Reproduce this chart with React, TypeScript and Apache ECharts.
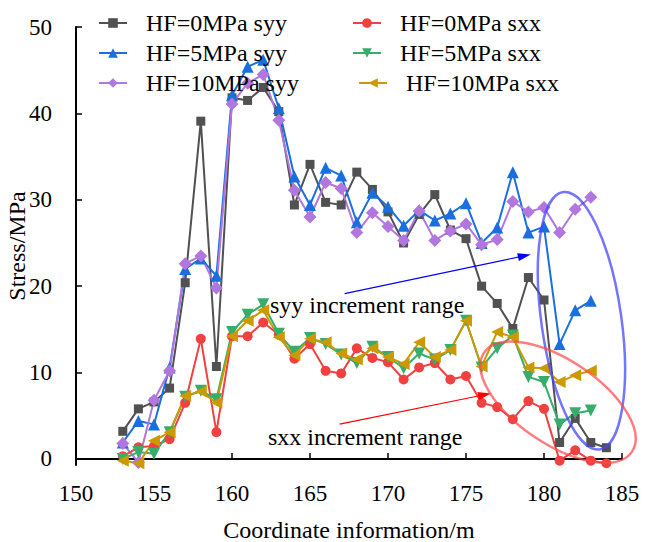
import React, { useEffect, useRef } from "react";
import * as echarts from "echarts";

// Measuring positions along the section (m)
const positions = [
  153, 154, 155, 156, 157, 158, 159, 160, 161, 162, 163, 164, 165, 166, 167, 168,
  169, 170, 171, 172, 173, 174, 175, 176, 177, 178, 179, 180, 181, 182, 183, 184,
];

// Vertical stress syy (MPa)
const syyHF0 = [
  3.2, 5.8, 6.6, 8.2, 20.4, 39.1, 10.7, 41.8, 41.5, 43.0, 40.2, 29.4, 34.1, 29.7, 29.4, 33.2,
  31.2, 28.6, 25.0, 28.3, 30.6, 26.5, 25.5, 20.0, 18.0, 15.1, 21.0, 18.4, 1.9, 4.7, 1.9, 1.3,
];
const syyHF5 = [
  1.9, 4.4, 4.0, 10.6, 22.0, 23.2, 21.2, 42.1, 45.4, 46.2, 40.6, 32.7, 29.4, 33.7, 32.8, 27.4,
  30.8, 29.2, 27.0, 28.8, 27.6, 28.4, 29.6, 25.0, 26.8, 33.2, 26.2, 26.9, 13.3, 17.2, 18.3,
];
const syyHF10 = [
  1.8, -0.4, 6.8, 10.2, 22.6, 23.5, 19.8, 41.1, 43.5, 44.5, 39.2, 31.1, 28.0, 32.0, 31.3, 26.2,
  28.5, 26.9, 25.3, 28.7, 25.3, 26.4, 27.2, 24.8, 25.4, 29.8, 28.6, 29.1, 26.2, 28.9, 30.3,
];

// Horizontal stress sxx (MPa)
const sxxHF0 = [
  0.3, 1.35, 1.5, 2.3, 6.5, 13.9, 3.1, 14.2, 14.2, 15.8, 14.4, 11.6, 13.3, 10.2, 9.9, 12.8,
  11.7, 11.2, 9.2, 10.6, 11.1, 9.2, 9.6, 6.5, 6.0, 4.6, 6.7, 5.8, -0.2, 1.0, -0.2, -0.5,
];
const sxxHF5 = [
  0.0, 0.8, 0.6, 3.1, 7.2, 7.9, 6.9, 14.7, 16.7, 17.9, 14.5, 12.4, 14.0, 13.3, 12.1, 11.1,
  13.0, 11.8, 10.5, 12.2, 11.5, 12.6, 16.0, 10.6, 12.8, 14.3, 9.5, 8.9, 4.0, 5.3, 5.6,
];
const sxxHF10 = [
  -0.2, -0.5, 2.1, 3.1, 7.3, 7.8, 6.5, 14.2, 16.0, 17.2, 14.1, 12.0, 13.9, 13.5, 12.2, 11.5,
  12.8, 11.8, 11.0, 13.5, 11.8, 12.6, 16.0, 10.7, 14.7, 14.1, 10.6, 10.5, 8.9, 9.7, 10.2,
];

const yTicks = [0, 10, 20, 30, 40, 50];

const FONT = "Liberation Serif";

const pairs = (vals: number[]) => vals.map((v, i) => [positions[i], v]);

type SeriesDef = {
  name: string;
  values: number[];
  color: string;
  symbol: string;
  size: number;
  rotate?: number;
};

const seriesDefs: SeriesDef[] = [
  { name: "HF=0MPa syy", values: syyHF0, color: "#515151", symbol: "rect", size: 9 },
  { name: "HF=5MPa syy", values: syyHF5, color: "#1A6FDF", symbol: "triangle", size: 12 },
  { name: "HF=10MPa syy", values: syyHF10, color: "#B177DE", symbol: "diamond", size: 13 },
  { name: "HF=0MPa sxx", values: sxxHF0, color: "#F14040", symbol: "circle", size: 10 },
  { name: "HF=5MPa sxx", values: sxxHF5, color: "#37AD6B", symbol: "triangle", size: 12, rotate: 180 },
  { name: "HF=10MPa sxx", values: sxxHF10, color: "#CC9900", symbol: "triangle", size: 12, rotate: 90 },
];

const legendBase = {
  orient: "vertical" as const,
  itemWidth: 28,
  itemHeight: 12,
  itemGap: 6,
  textStyle: { fontFamily: FONT, fontSize: 24, color: "#000", padding: [0, 0, 0, 14] },
};

export default function App() {
  const ref = useRef<HTMLDivElement>(null);

  useEffect(() => {
    const chart = echarts.init(ref.current!, null, { renderer: "svg" });

    chart.setOption({
      animation: false,
      backgroundColor: "#fff",
      textStyle: { fontFamily: FONT },
      grid: {
        left: 76,
        right: 30,
        top: 27,
        bottom: 77,
        containLabel: false,
        outerBoundsMode: "none",
      },
      legend: [
        { ...legendBase, left: 93, top: 6, data: ["HF=0MPa syy", "HF=5MPa syy", "HF=10MPa syy"] },
        { ...legendBase, left: 347, top: 6, data: ["HF=0MPa sxx", "HF=5MPa sxx"] },
        { ...legendBase, left: 353, top: 66, data: ["HF=10MPa sxx"] },
      ],
      xAxis: {
        type: "value",
        min: 150,
        max: 185,
        interval: 5,
        name: "Coordinate information/m",
        nameLocation: "middle",
        nameGap: 53,
        nameMoveOverlap: false,
        nameTextStyle: { fontFamily: FONT, fontSize: 24, color: "#000" },
        axisLine: { show: true, lineStyle: { color: "#000", width: 2 } },
        axisTick: { show: true, inside: true, length: 6, lineStyle: { color: "#000", width: 1.5 } },
        axisLabel: { fontFamily: FONT, fontSize: 23, color: "#000", margin: 17 },
        splitLine: { show: false },
      },
      yAxis: {
        type: "value",
        min: -0.7,
        max: 50,
        name: "Stress/MPa",
        nameLocation: "middle",
        nameGap: 47,
        nameMoveOverlap: false,
        nameTextStyle: { fontFamily: FONT, fontSize: 24, color: "#000" },
        axisLine: { show: true, lineStyle: { color: "#000", width: 2 } },
        axisTick: {
          show: true,
          inside: true,
          length: 6,
          customValues: yTicks,
          lineStyle: { color: "#000", width: 1.5 },
        },
        axisLabel: {
          fontFamily: FONT,
          fontSize: 23,
          color: "#000",
          margin: 24,
          customValues: yTicks,
        },
        splitLine: { show: false },
      },
      series: seriesDefs.map((s) => ({
        name: s.name,
        type: "line",
        data: pairs(s.values),
        symbol: s.symbol,
        symbolSize: s.size,
        symbolRotate: s.rotate ?? 0,
        showAllSymbol: true,
        clip: false,
        lineStyle: { color: s.color, width: 2 },
        itemStyle: { color: s.color },
        emphasis: { disabled: true },
      })),
    });

    // Annotation layer: arrows, labels and highlight ellipses, placed in data space
    const px = (x: number, y: number) => chart.convertToPixel({ gridIndex: 0 }, [x, y]) as number[];

    const arrow = (from: number[], to: number[], color: string) => {
      const a = px(from[0], from[1]);
      const b = px(to[0], to[1]);
      const dx = b[0] - a[0];
      const dy = b[1] - a[1];
      const len = Math.hypot(dx, dy);
      const ux = dx / len;
      const uy = dy / len;
      const headLen = 13;
      const headW = 4;
      const bx = b[0] - ux * headLen;
      const by = b[1] - uy * headLen;
      return [
        {
          type: "line",
          shape: { x1: a[0], y1: a[1], x2: bx, y2: by },
          style: { stroke: color, lineWidth: 1.2 },
          z: 100,
        },
        {
          type: "polygon",
          shape: {
            points: [
              [b[0], b[1]],
              [bx - uy * headW, by + ux * headW],
              [bx + uy * headW, by - ux * headW],
            ],
          },
          style: { fill: color },
          z: 100,
        },
      ];
    };

    const label = (x: number, y: number, text: string) => {
      const p = px(x, y);
      return {
        type: "text",
        x: p[0],
        y: p[1],
        z: 100,
        style: {
          text,
          fill: "#000",
          font: `24px ${FONT}`,
          textAlign: "left",
          textVerticalAlign: "middle",
        },
      };
    };

    const ellipse = (x: number, y: number, rx: number, ry: number, rotation: number, color: string) => {
      const p = px(x, y);
      return {
        type: "ellipse",
        x: p[0],
        y: p[1],
        rotation,
        z: 100,
        shape: { cx: 0, cy: 0, rx, ry },
        style: { fill: "none", stroke: color, lineWidth: 2.5 },
      };
    };

    chart.setOption({
      graphic: [
        ...arrow([167.22, 19.13], [179.15, 23.67], "#0000ff"),
        ...arrow([166.9, 4.04], [176.6, 7.59], "#ff0000"),
        label(162.43, 17.78, "syy increment range"),
        label(162.3, 2.5, "sxx increment range"),
        ellipse(182.4, 16.0, 40, 130, 0.14, "rgba(70,70,255,0.75)"),
        ellipse(180.9, 6.58, 89, 42, -0.59, "rgba(255,70,70,0.7)"),
      ],
    });

    return () => chart.dispose();
  }, []);

  return (
    <div
      ref={ref}
      style={{ position: "fixed", left: 0, top: 0, width: 652, height: 542, background: "#fff" }}
    />
  );
}
